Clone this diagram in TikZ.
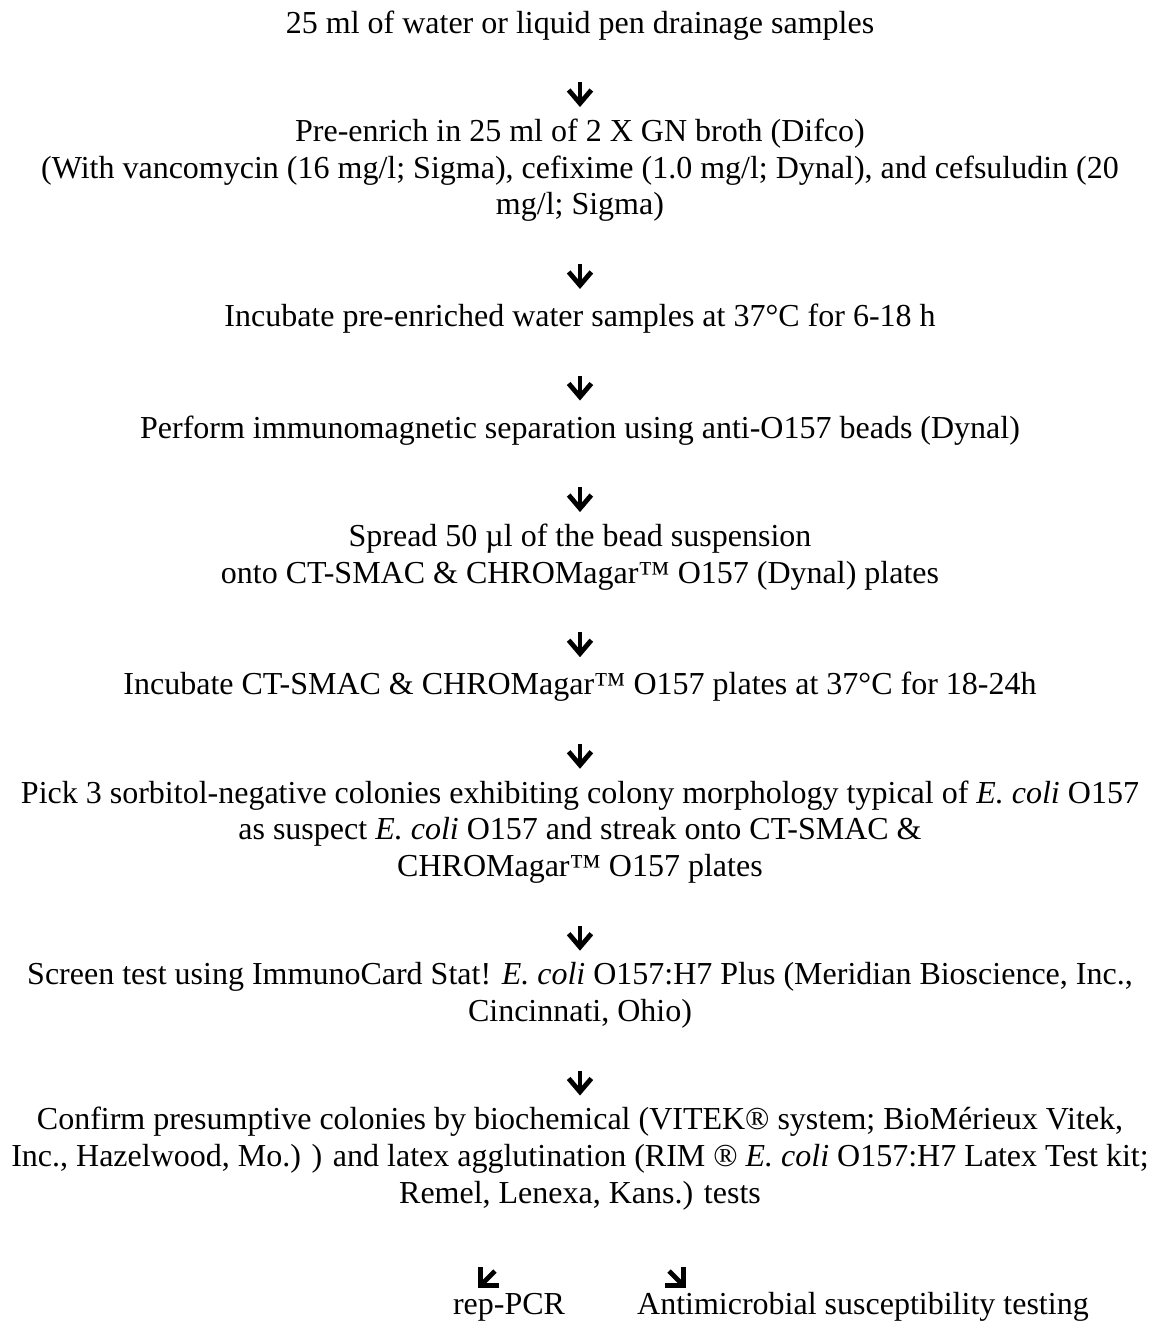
\documentclass[tikz,border=0pt]{standalone}
\usepackage{fontspec}
\setmainfont{Liberation Serif}
\usepackage{tikz}
\usetikzlibrary{
	positioning,
	arrows.meta
}

\tikzset{
	stepbox/.style={align=center,inner sep=0pt,font=\fontsize{12}{13.81}\selectfont,
		execute at begin node=\strut,execute at end node=\strut},
	flow/.style={line width=1.8pt,shorten <=14.1pt,shorten >=4.2pt,
		-{Straight Barb[length=5pt,width=8.5pt]}},
	split/.style={line width=1.8pt,-{Straight Barb[length=5pt,width=10pt]}}
}

\begin{document}
\begin{tikzpicture}[x=0.375pt,y=-0.375pt,node distance=27.62pt]
	\useasboundingbox (0,0) rectangle (1158,1330);
	\draw
		node [stepbox,anchor=base] (sample) at (580,33) {25 ml of water or liquid pen drainage samples}
		node [stepbox,below=of sample] (enrich) {Pre-enrich in 25 ml of 2 X GN broth (Difco)\\
			(With vancomycin (16 mg/l; Sigma), cefixime (1.0 mg/l; Dynal), and cefsuludin (20\\
			mg/l; Sigma)}
		node [stepbox,below=of enrich] (incwater) {Incubate pre-enriched water samples at 37°C for 6-18 h}
		node [stepbox,below=of incwater] (ims) {Perform immunomagnetic separation using anti-O157 beads (Dynal)}
		node [stepbox,below=of ims] (spread) {Spread 50 µl of the bead suspension\\
			onto CT-SMAC \& CHROMagar™ O157 (Dynal) plates}
		node [stepbox,below=of spread] (incplates) {Incubate CT-SMAC \& CHROMagar™ O157 plates at 37°C for 18-24h}
		node [stepbox,below=of incplates] (pick) {Pick 3 sorbitol-negative colonies exhibiting colony morphology typical of \textit{E. coli} O157\\
			as suspect \textit{E. coli} O157 and streak onto CT-SMAC \&\\
			CHROMagar™ O157 plates}
		node [stepbox,below=of pick] (screen) {Screen test using ImmunoCard Stat! \textit{E. coli} O157:H7 Plus (Meridian Bioscience, Inc.,\\
			Cincinnati, Ohio)}
		node [stepbox,below=of screen] (confirm) {Confirm presumptive colonies by biochemical (VITEK® system; BioMérieux Vitek,\\
			Inc., Hazelwood, Mo.) ) and latex agglutination (RIM ® \textit{E. coli} O157:H7 Latex Test kit;\\
			Remel, Lenexa, Kans.) tests}
		node [stepbox,below=of confirm,xshift=-26.6pt] (pcr) {rep-PCR}
		node [stepbox,below=of confirm,xshift=106.1pt] (ast) {Antimicrobial susceptibility testing}
		(sample)    edge[flow] (enrich)
		(enrich)    edge[flow] (incwater)
		(incwater)  edge[flow] (ims)
		(ims)       edge[flow] (spread)
		(spread)    edge[flow] (incplates)
		(incplates) edge[flow] (pick)
		(pick)      edge[flow] (screen)
		(screen)    edge[flow] (confirm)
	;
	% the two short diagonal arrows above the last row
	\coordinate (pcrtop) at (495,1271);
	\coordinate (pcrend) at (478,1288);
	\coordinate (asttop) at (669,1271);
	\coordinate (astend) at (686,1288);
	\draw[split] (pcrtop) -- (pcrend);
	\draw[split] (asttop) -- (astend);
\end{tikzpicture}
\end{document}
